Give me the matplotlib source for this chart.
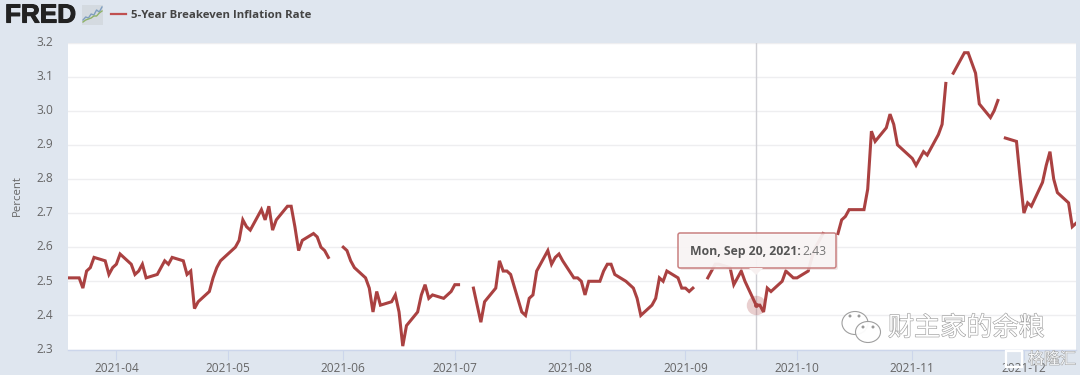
import numpy as np
import pandas as pd
import matplotlib
matplotlib.use("Agg")
import matplotlib.pyplot as plt
import matplotlib.dates as mdates
import matplotlib.patheffects as pe
from matplotlib.patches import Ellipse, FancyBboxPatch, Polygon, Rectangle
from matplotlib.transforms import ScaledTranslation

nan = np.nan

# values per month, one per weekday (nan = market holiday gap)
mar_vals = [2.51, 2.51, 2.48, 2.53, 2.54, 2.57, 2.56, 2.52, 2.54]
apr_vals = [2.55, 2.58, 2.55, 2.52, 2.53, 2.55, 2.51, 2.52, 2.54, 2.56, 2.55,
            2.57, 2.56, 2.52, 2.53, 2.42, 2.44, 2.47, 2.51, 2.54, 2.56, 2.57]
may_vals = [2.60, 2.62, 2.68, 2.66, 2.65, 2.71, 2.68, 2.72, 2.65, 2.68, 2.72,
            2.72, 2.66, 2.59, 2.62, 2.64, 2.63, 2.60, 2.59, 2.57, nan]
jun_vals = [2.60, 2.59, 2.56, 2.54, 2.51, 2.48, 2.41, 2.47, 2.43, 2.44, 2.46,
            2.41, 2.31, 2.37, 2.41, 2.46, 2.49, 2.45, 2.46, 2.45, 2.46, 2.47]
jul_vals = [2.49, 2.49, nan, 2.48, 2.43, 2.38, 2.44, 2.48, 2.56, 2.53, 2.53,
            2.52, 2.41, 2.40, 2.45, 2.46, 2.53, 2.59, 2.55, 2.57, 2.58, 2.56]
aug_vals = [2.51, 2.51, 2.50, 2.46, 2.50, 2.50, 2.53, 2.55, 2.55, 2.52, 2.50,
            2.49, 2.48, 2.45, 2.40, 2.43, 2.45, 2.51, 2.50, 2.53, 2.51, 2.48]
sep_vals = [2.48, 2.47, 2.48, nan, 2.51, 2.53, 2.55, 2.55, 2.54, 2.49, 2.51,
            2.53, 2.50, 2.43, 2.43, 2.41, 2.48, 2.47, 2.50, 2.53, 2.52, 2.51]
oct_vals = [2.51, 2.53, 2.57, 2.60, 2.62, 2.64, nan, 2.64, 2.68, 2.69, 2.71,
            2.71, 2.71, 2.77, 2.94, 2.91, 2.95, 2.99, 2.96, 2.90, 2.89]
nov_vals = [2.86, 2.84, 2.86, 2.88, 2.87, 2.93, 2.96, 3.08, nan, 3.11, 3.17,
            3.17, 3.14, 3.11, 3.02, 2.98, 3.00, 3.03, nan, 2.92, 2.91, 2.80]
dec_vals = [2.70, 2.73, 2.72, 2.79, 2.84, 2.88, 2.80, 2.76, 2.73, 2.66, 2.67]

values = mar_vals + apr_vals + may_vals + jun_vals + jul_vals + aug_vals \
    + sep_vals + oct_vals + nov_vals + dec_vals
dates = pd.bdate_range("2021-03-19", "2021-12-15")

y_ticks = [2.3, 2.4, 2.5, 2.6, 2.7, 2.8, 2.9, 3.0, 3.1, 3.2]
x_ticks = ["2021-04-01", "2021-05-01", "2021-06-01", "2021-07-01", "2021-08-01",
           "2021-09-01", "2021-10-01", "2021-11-01", "2021-12-01"]
hover_date = "2021-09-20"
hover_value = 2.43

# logo sparkline
logo_blue = [3, 6, 5, 9, 8, 13, 11, 16]
logo_green = [1, 3, 4, 5, 7, 7, 10, 12]

BG = "#dfe6ef"
RED = "#aa4141"
W, H = 1080, 375

plt.rcParams['font.family'] = ['Open Sans', 'DejaVu Sans']

fig = plt.figure(figsize=(W / 100, H / 100), dpi=100, facecolor=BG)
ax = fig.add_axes([68 / W, 1 - 349.5 / H, 1008 / W, 307 / H])
ax.set_facecolor("white")

ax.plot(pd.to_datetime(dates), values, color=RED, lw=2.2, solid_joinstyle="miter", zorder=3)

ax.set_xlim(pd.Timestamp("2021-03-19"), pd.Timestamp("2021-12-15"))
ax.set_ylim(2.3, 3.2)
ax.set_yticks(y_ticks)
ax.set_yticklabels(["%.1f" % v for v in y_ticks])
ax.set_xticks(pd.to_datetime(x_ticks))
ax.xaxis.set_major_formatter(mdates.DateFormatter("%Y-%m"))
ax.grid(axis="y", color="#eeeef0", lw=1.0, zorder=0)
ax.set_axisbelow(True)
for s in ["top", "right", "left"]:
    ax.spines[s].set_visible(False)
ax.spines["bottom"].set_color("#ccd6eb")
ax.spines["bottom"].set_linewidth(1)
ax.tick_params(axis="y", length=0, pad=10.5, labelsize=8.6, labelcolor="#666666")
ax.tick_params(axis="x", length=7.5, width=0.8, color="#ccd6eb", pad=1.5, labelsize=8.6, labelcolor="#666666")
ax.set_ylabel("Percent", fontsize=8.2, color="#666666")
ax.yaxis.set_label_coords((23 - 68) / 1008, 0.5)

# y labels sit a touch above their gridlines
shift = ScaledTranslation(0, 1.2 / 72, fig.dpi_scale_trans)
for lab in ax.get_yticklabels():
    lab.set_transform(lab.get_transform() + shift)

# crosshair and hovered point
hx = pd.Timestamp(hover_date)
ax.axvline(hx, color="#cfcfd4", lw=1.0, zorder=2)
ax.plot([hx], [hover_value], "o", ms=14, mfc=RED, mec="none", alpha=0.25, zorder=4, clip_on=False)
ax.plot([hx], [hover_value], "o", ms=3.5, mfc=RED, mec="none", zorder=5)

# overlay in image pixels for the header, tooltip and watermark
ov = fig.add_axes([0, 0, 1, 1], zorder=10)
ov.set_xlim(0, W)
ov.set_ylim(H, 0)
ov.axis("off")
ov.patch.set_alpha(0)

# tooltip
ov.add_patch(FancyBboxPatch((680, 235), 158, 35, boxstyle="round,pad=0,rounding_size=2",
                            fc="#e8d8d8", ec="none", alpha=0.6, zorder=5))
ov.add_patch(FancyBboxPatch((678, 233), 158, 35, boxstyle="round,pad=0,rounding_size=2",
                            fc=(0.98, 0.97, 0.97, 0.85), ec="#c98080", lw=1.1, zorder=6))
ov.add_patch(Polygon([[749, 268], [756, 275], [763, 268]], closed=True,
                     fc="#f7f0f0", ec="none", zorder=7))
ov.text(690, 251.5, "Mon, Sep 20, 2021:", fontsize=8.8, fontweight="bold", color="#555555",
        va="center", zorder=8)
ov.text(802, 251.5, "2.43", fontsize=8.8, color="#777777", va="center", zorder=8)

# header
ov.text(5, 15.5, "FRED", family="Liberation Sans", fontsize=18.8, fontweight="bold", color="#222222",
        va="center", ha="left", path_effects=[pe.withStroke(linewidth=0.8, foreground="#222222")])
ov.add_patch(Rectangle((82, 5), 21, 20, fc="#d4dae0", ec="none"))
logo_x = np.linspace(83, 102, len(logo_blue))
ov.plot(logo_x, 23 - np.array(logo_blue), color="#7f9fc0", lw=1)
ov.plot(logo_x, 23 - np.array(logo_green), color="#8fb26a", lw=1)
ov.plot([111, 126], [14, 14], color="#c05050", lw=1.6)
ov.text(131, 15, "5-Year Breakeven Inflation Rate", fontsize=8.2, fontweight="bold",
        color="#444444", va="center")

# watermark
halo = [pe.withStroke(linewidth=0.9, foreground="#a0a0a0")]
ov.text(888, 328, "财主家的余粮", family=["Noto Sans CJK SC", "DejaVu Sans"], fontsize=18.8, color="white",
        va="center", path_effects=halo, zorder=9)
for (cx, cy, w, h) in [(855, 323, 26, 23), (868, 332, 25, 21)]:
    ov.add_patch(Ellipse((cx, cy), w, h, fc="white", ec="#9a9a9a", lw=0.8, alpha=0.95, zorder=9))
for (cx, cy) in [(850, 316), (859, 316), (863, 327), (873, 327)]:
    ov.add_patch(Ellipse((cx, cy), 3, 3, fc="#9a9a9a", ec="none", zorder=10))
ov.add_patch(Rectangle((1006, 351), 16, 16, fc="none", ec="#ffffff", lw=1.6, zorder=9))
ov.text(1028, 359.5, "格隆汇", family=["Noto Sans CJK SC", "DejaVu Sans"], fontsize=11.5, color="#f4f6f8",
        va="center", path_effects=[pe.withStroke(linewidth=0.7, foreground="#9a9a9a")], zorder=9)

plt.savefig("out.png", dpi=100, facecolor=BG)
